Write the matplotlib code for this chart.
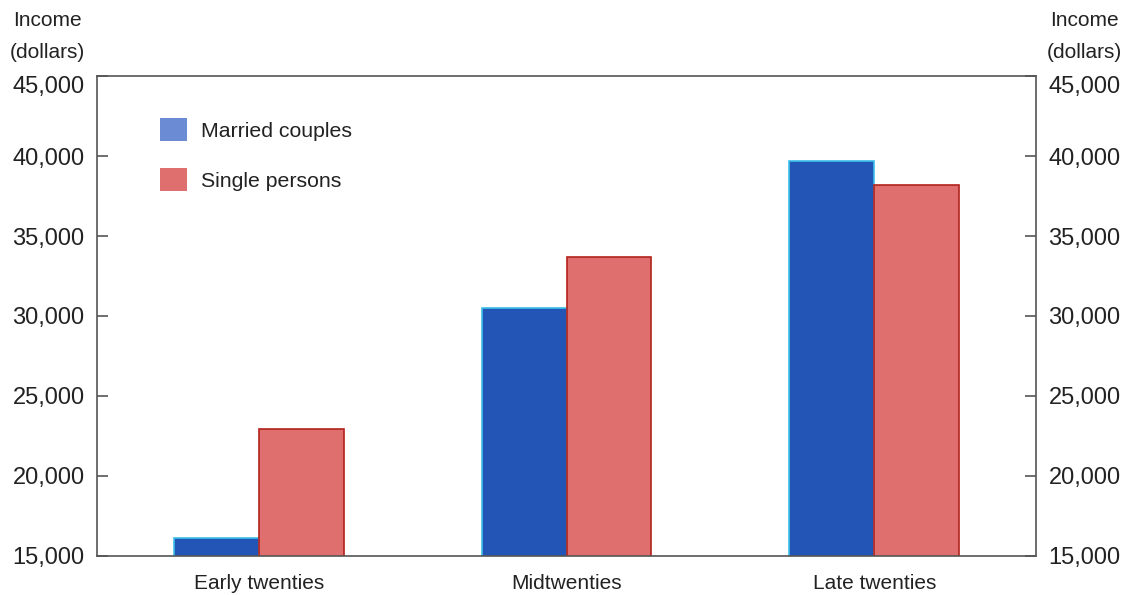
import numpy as np
import matplotlib
matplotlib.use("Agg")
import matplotlib.pyplot as plt
from matplotlib.patches import Patch

plt.rcParams["font.family"] = ["Liberation Sans", "DejaVu Sans"]

# data
age_groups = ["Early twenties", "Midtwenties", "Late twenties"]
married = [16100, 30500, 39700]
single = [22950, 33700, 38200]
y_ticks = [15000, 20000, 25000, 30000, 35000, 40000, 45000]

text_col = "#222222"
spine_col = "#555555"

fig = plt.figure(figsize=(11.31, 5.95), dpi=100)
ax = fig.add_axes([0.0858, 0.066, 0.8302, 0.806])

x = np.arange(len(age_groups))
w = 0.276
ax.bar(x - w / 2, married, width=w, bottom=0, color="#2355B6", edgecolor="#3CC0E8", linewidth=1.2, zorder=2)
ax.bar(x + w / 2, single, width=w, bottom=0, color="#DE6F6E", edgecolor="#B2221C", linewidth=1.2, zorder=2)

ax.set_xlim(-0.525, 2.525)
ax.set_ylim(15000, 45000)
ax.set_xticks(x)
ax.set_xticklabels(age_groups, fontsize=15, color=text_col)
ax.tick_params(axis="x", length=0, pad=13)

ax.set_yticks(y_ticks)
ax.set_yticklabels([f"{v:,}" for v in y_ticks])
ax.tick_params(axis="y", which="both", direction="in", length=8, width=1.2, color=spine_col,
               labelsize=17, labelcolor=text_col, left=True, right=True,
               labelleft=True, labelright=True, pad=9)
top_tick = ax.yaxis.get_major_ticks()[-1]
top_tick.label1.set_verticalalignment("top")
top_tick.label2.set_verticalalignment("top")

for s in ax.spines.values():
    s.set_color(spine_col)
    s.set_linewidth(1.2)

for xc in (47, 1084):
    fig.text(xc / 1131, 1 - 20 / 595, "Income", ha="center", va="center", fontsize=15, color=text_col)
    fig.text(xc / 1131, 1 - 52 / 595, "(dollars)", ha="center", va="center", fontsize=15, color=text_col)

handles = [Patch(facecolor="#6B8BD4", edgecolor="none", label="Married couples"),
           Patch(facecolor="#DF6E6E", edgecolor="none", label="Single persons")]
ax.legend(handles=handles, loc="upper left", bbox_to_anchor=(0.067, 0.912), frameon=False,
          fontsize=15.3, handlelength=1.25, handleheight=1.25, handletextpad=0.7,
          labelspacing=1.3, borderpad=0, borderaxespad=0, labelcolor=text_col)

fig.savefig("out.png", dpi=100)
